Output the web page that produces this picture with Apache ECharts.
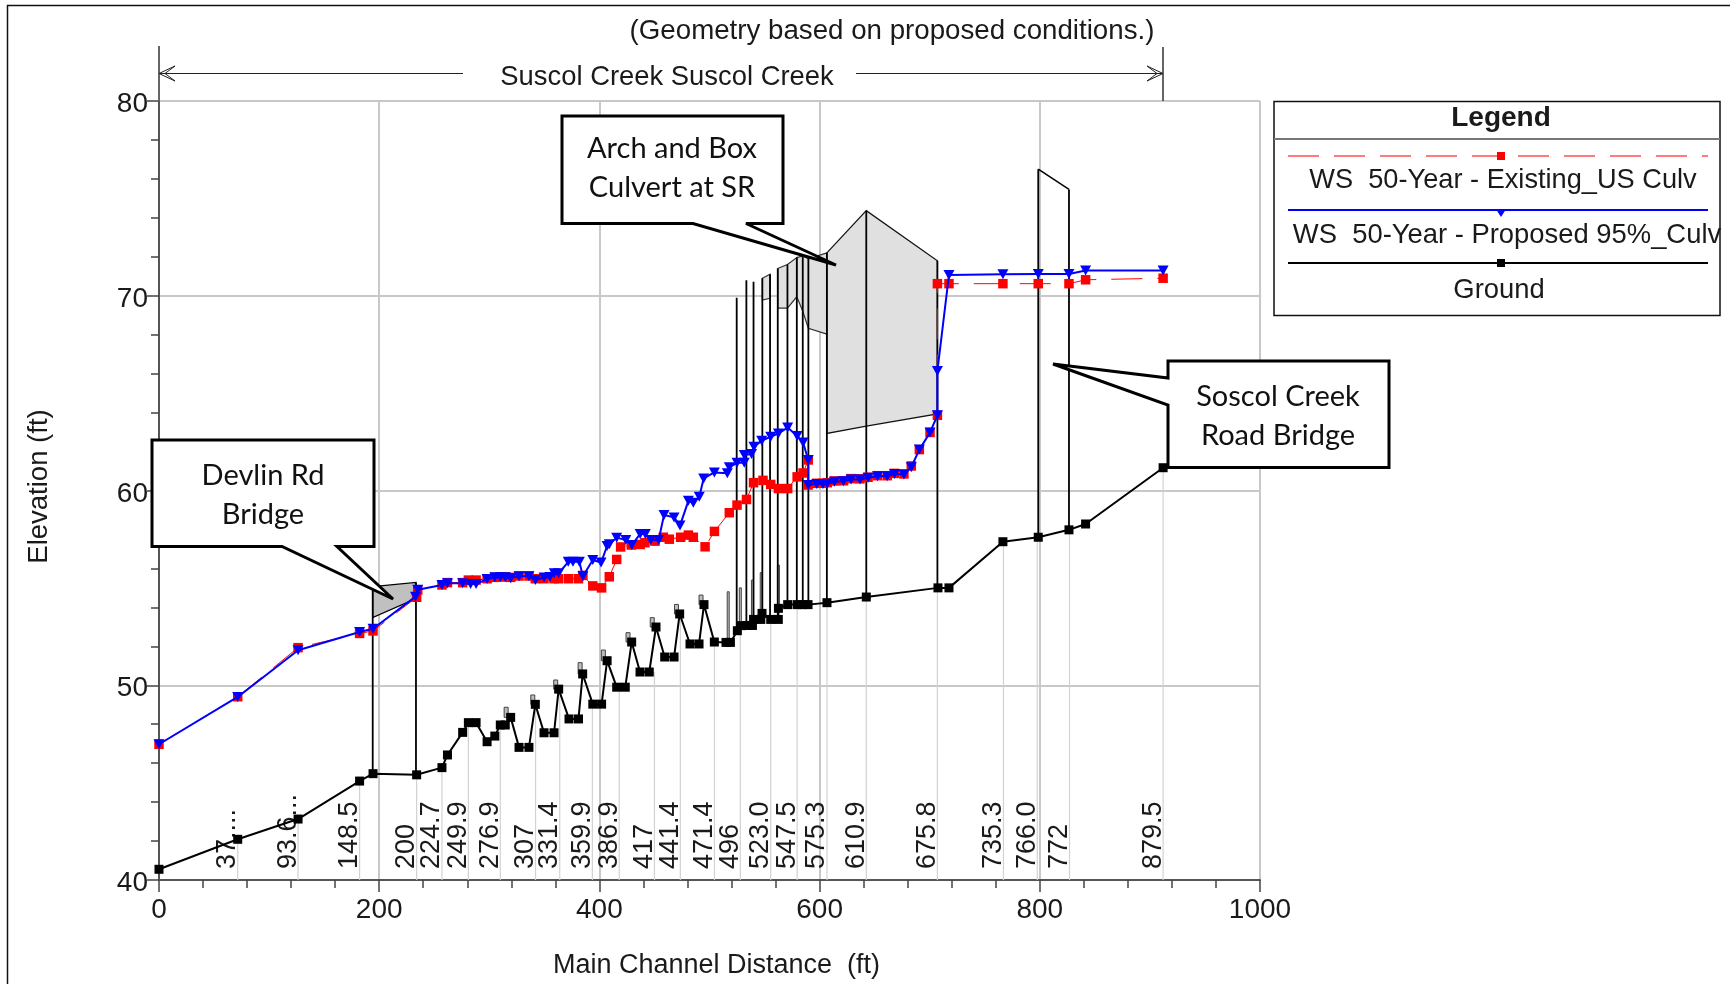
<!DOCTYPE html>
<html><head><meta charset="utf-8">
<style>html,body{margin:0;padding:0;background:#fff}#c{width:1730px;height:984px}</style>
<script src="https://cdn.jsdelivr.net/npm/echarts@6/dist/echarts.min.js"></script>
</head><body><div id="c"></div>
<script>
const groundX=[0,71.5,126.3,182.2,194.4,234,257,262,275.8,281,288,298,305,310,314.5,319.4,327,336,341.8,349.7,358.8,363,372.4,381,384.8,394,402,407,415.7,423.5,429.3,436.9,445.3,451.4,459.3,467.8,472.9,482.3,490.5,495,504.4,515,519,525.3,528.9,533.8,539,540,546.6,547.7,555.6,562.5,562.6,571,579.6,584.6,589.5,606.7,642.4,707.5,717.5,766.5,798.6,826.5,841.6,912];
const groundY=[40.55,42.09,43.13,45.08,45.46,45.4,45.77,46.42,47.58,48.08,48.08,47.1,47.39,47.96,47.96,48.35,46.81,46.81,49.02,47.56,47.56,49.8,48.27,48.27,50.58,49.03,49.03,51.26,49.9,49.9,52.22,50.68,50.68,52.99,51.45,51.45,53.66,52.12,52.12,54.14,52.22,52.2,52.2,52.8,53.06,53.07,53.07,53.38,53.38,53.69,53.38,53.38,53.95,54.14,54.14,54.14,54.14,54.24,54.53,55,55,57.37,57.6,57.98,58.28,61.17];

const existingX=[0,71.5,126.3,182.2,194.4,234,235,257,262,275.8,281,288,298,305,310,314.5,319.4,327,336,341.8,349.7,358.8,363,372,381,385,394,402,409,415.7,419.3,429,437,441.4,450.5,458,463.5,473.8,480.8,485.3,496,504.5,518,525,533.6,540,548.6,555.6,562.6,571,579.6,585,589.7,589.5,597.4,603,607,613.5,621.7,628.6,636.7,644,652.6,661.4,668,676.6,683.3,690.6,700.3,707,707,717.5,766.5,798.6,826.5,841.6,912];
const existingY=[46.97,49.41,51.93,52.66,52.79,54.52,54.89,55.15,55.27,55.27,55.4,55.4,55.47,55.54,55.57,55.57,55.54,55.61,55.61,55.47,55.47,55.47,55.47,55.47,55.47,55.64,55.1,55,55.57,56.46,57.1,57.2,57.23,57.32,57.4,57.6,57.5,57.6,57.71,57.6,57.11,57.9,58.86,59.25,59.54,60.4,60.52,60.31,60.1,60.1,60.7,60.9,61.57,60.28,60.37,60.37,60.4,60.49,60.5,60.61,60.6,60.68,60.76,60.76,60.88,60.85,61.26,62.1,62.98,63.86,70.62,70.62,70.62,70.62,70.62,70.82,70.9];

const proposedX=[0,71.5,126.3,182.2,194.4,233,235,257,262,275.8,283,288,298,305,310,314.5,319.4,327,336,341.8,349.7,355,359,363,371.7,376,381.8,385,394,401.5,407,409,415.7,424,429.5,437,441.7,446.6,453.8,458.7,467.8,473.2,480.8,485.3,490.7,494.7,504.4,516.2,518,525,531.6,531.6,538.2,540.4,547.4,555.6,562.6,571,579.6,585,589.7,589.7,597.4,603,607,613.5,621.7,628.6,636.7,644,652.6,661.4,668,676.6,683.3,690.6,700.3,707,707,717.5,766.5,798.6,826.5,841.6,912];
const proposedY=[46.97,49.4,51.8,52.73,52.9,54.55,54.9,55.15,55.24,55.24,55.2,55.2,55.45,55.54,55.54,55.54,55.5,55.6,55.6,55.4,55.53,55.56,55.75,55.75,56.34,56.34,56.34,55.6,56.43,56.3,57.15,57.24,57.58,57.46,57.2,57.77,57.77,57.46,57.46,58.74,58.62,58.2,59.47,59.37,59.68,60.62,60.93,60.88,61.2,61.42,61.42,61.82,61.87,62.25,62.56,62.76,62.93,63.23,62.8,62.47,61.57,60.28,60.34,60.33,60.35,60.45,60.47,60.57,60.57,60.65,60.73,60.73,60.85,60.82,61.2,62.1,62.98,63.86,66.14,71.07,71.1,71.12,71.12,71.3,71.3];

// stationing lines and their labels
const stationX=[71.5,126.3,182.2,234,257,281,310,342,364,393.6,418,450,473.5,504.5,528,555.6,579.6,606.7,642.4,707,767,797.7,827,912];
const stationTop=[42.09,43.13,45.08,45.4,45.77,48.08,47.96,49.02,49.8,49.03,49.9,50.68,53.66,52.22,53.06,53.38,54.14,54.24,54.53,55,57.37,57.6,57.98,61.17];
const stationLabels=["37....","93.6...","148.5","200","224.7","249.9","276.9","307","331.4","359.9","386.9","417","441.4","471.4","496","523.0","547.5","575.3","610.9","675.8","735.3","766.0","772","879.5"];

// structure verticals: [station, top elevation, ground elevation]
const pierLines=[[194.1,55.06,45.46],[233.4,55.28,45.4],[524.7,69.9,52.8],[533.5,70.8,53.07],[540,70.72,53.38],[548,70.9,53.69],[555,71.1,53.38],[562,71.4,53.38],[570.8,71.6,54.14],[579.3,71.96,54.14],[584.7,72.05,54.14],[589.8,71.9,54.14],[606.6,72.2,54.24],[642.4,74.37,54.53],[707,71.8,55],[798.6,76.5,57.6],[826.5,75.46,57.98]];
// deck / chord shapes as [station, elevation] polygons
const devlinDeck=[[194.1,55.06],[233.4,55.28],[233.4,54.45],[194.1,53.48]];
const culvertA=[[548,70.9],[555,71.1],[555,69.87],[548,69.78]];
const culvertB=[[562,71.4],[570.8,71.6],[579.3,71.96],[579.3,69.95],[570.8,69.36],[562,69.36]];
const culvertC=[[579.3,71.96],[584.7,72.05],[589.8,71.9],[606.6,72.2],[606.6,68.03],[589.8,68.33],[584.7,69.2],[579.3,69.95]];
const culvertD=[[606.6,72.2],[642.4,74.37],[707,71.8],[707,63.93],[642.4,63.31],[606.6,62.93]];
const soscolTop=[[798.6,76.5],[826.5,75.46]];
// narrow obstruction bars above ground: [station, top, base]
const blockBars=[[315.3,48.87,48.35],[339.5,49.5,49.02],[360.3,50.27,49.8],[382.5,51.16,50.58],[403.6,51.81,51.26],[426,52.7,52.22],[448,53.47,52.99],[470,54.15,53.66],[492.3,54.63,54.14],[517,54.8,52.2],[528,55,53.06],[539,55.4,53.4],[547,55.78,53.69],[562.6,56.17,53.95]];

const pairs=(xs,ys)=>xs.map((x,i)=>[x,ys[i]]);
const FONT='"Liberation Sans",Arial,sans-serif', CAL='Lato,"Open Sans",sans-serif', DARK='#1a1a1a';
const polys=[{p:devlinDeck,f:'#c0c0c0',s:'#000'},{p:culvertA,f:'#e0e0e0',s:'#333'},{p:culvertB,f:'#e0e0e0',s:'#333'},{p:culvertC,f:'#e0e0e0',s:'#333'},{p:culvertD,f:'#e0e0e0',s:'#111'}];

const chart=echarts.init(document.getElementById('c'),null,{renderer:'canvas'});
const line=(id,pts,w,c,dash)=>({type:'polyline',silent:true,z:100,shape:{points:pts},style:{stroke:c||'#000',lineWidth:w,fill:null,lineDash:dash||null}});
const txt=(t,x,y,size,o)=>({type:'text',silent:true,z:102,x,y,style:Object.assign({text:t,fontSize:size,fontFamily:FONT,fill:DARK,align:'center',verticalAlign:'middle'},o||{})});
const callout=(pts)=>({type:'polygon',silent:true,z:101,shape:{points:pts},style:{fill:'#fff',stroke:'#000',lineWidth:3,lineJoin:'miter',miterLimit:3}});

const graphics=[
 line('f',[[7.5,984],[7.5,5.5],[1730,5.5]],1.5,'#111'),
 line('ya',[[159,101],[159,46]],2,'#666'),
 line('yr',[[1163,101],[1163,47]],1.5,'#333'),
 line('a1',[[159,73.5],[463,73.5]],1,'#222'),
 line('a2',[[856,73.5],[1163,73.5]],1,'#222'),
 line('h1',[[175,66],[159,73.5],[175,81],[165,73.5],[175,66]],1,'#222'),
 line('h2',[[1147,66],[1163,73.5],[1147,81],[1157,73.5],[1147,66]],1,'#222'),
 txt('(Geometry based on proposed conditions.)',892,31,27.7),
 txt('Suscol Creek Suscol Creek',667,77,27.4),
 callout([[152,440],[374,440],[374,546.5],[337,546.5],[393,599],[282,546.5],[152,546.5]]),
 txt('Devlin Rd',263,476,29,{fontFamily:CAL,fill:'#111'}),
 txt('Bridge',263,515,29,{fontFamily:CAL,fill:'#111'}),
 callout([[562,116],[783,116],[783,223.5],[746,223.5],[836,265],[693,223.5],[562,223.5]]),
 txt('Arch and Box',672,149,29,{fontFamily:CAL,fill:'#111'}),
 txt('Culvert at SR',672,188,29,{fontFamily:CAL,fill:'#111'}),
 callout([[1168,361],[1389,361],[1389,467.5],[1168,467.5],[1168,405],[1053,364],[1168,378]]),
 txt('Soscol Creek',1278,397,29,{fontFamily:CAL,fill:'#111'}),
 txt('Road Bridge',1278,436,29,{fontFamily:CAL,fill:'#111'}),
 {type:'rect',silent:true,z:100,shape:{x:1274,y:101.5,width:446,height:214},style:{fill:'#fff',stroke:'#111',lineWidth:1.5}},
 line('lh',[[1274,139],[1720,139]],2,'#777'),
 txt('Legend',1501,118,28,{fontWeight:'bold'}),
 line('l1',[[1288,156],[1708,156]],1.5,'#ff5050',[31,15]),
 {type:'rect',silent:true,z:102,shape:{x:1497,y:152,width:8,height:8},style:{fill:'#f00'}},
 txt('WS  50-Year - Existing_US Culv',1503,181,27.2),
 line('l2',[[1288,210],[1708,210]],2,'#00f'),
 {type:'polygon',silent:true,z:102,shape:{points:[[1496.5,210],[1505.5,210],[1501,217]]},style:{fill:'#00f'}},
 txt('WS  50-Year - Proposed 95%_Culv',1507,235,27.4),
 line('l3',[[1288,263],[1708,263]],2,'#000'),
 {type:'rect',silent:true,z:102,shape:{x:1497,y:259,width:8,height:8},style:{fill:'#000'}},
 txt('Ground',1499,290,27.4)
];

const option={
 animation:false,backgroundColor:'#fff',
 grid:{left:159,top:101,width:1101,height:779,containLabel:false},
 xAxis:{type:'value',min:0,max:1000,interval:200,
  name:'Main Channel Distance  (ft)',nameLocation:'middle',nameGap:72,
  nameTextStyle:{fontFamily:FONT,fontSize:27,color:DARK,padding:[0,0,0,14]},
  axisLine:{lineStyle:{color:'#555',width:2},onZero:false},
  axisTick:{show:true,length:12,lineStyle:{color:'#444',width:1.5}},
  minorTick:{show:true,splitNumber:5,length:8,lineStyle:{color:'#444',width:1.5}},
  axisLabel:{fontFamily:FONT,fontSize:28,color:DARK,margin:16,formatter:v=>String(v)},
  splitLine:{show:true,lineStyle:{color:'#c8c8c8',width:2}},minorSplitLine:{show:false}},
 yAxis:{type:'value',min:40,max:80,interval:10,
  name:'Elevation (ft)',nameLocation:'middle',nameGap:106,nameRotate:90,
  nameTextStyle:{fontFamily:FONT,fontSize:27.5,color:DARK,padding:[0,0,0,8]},
  axisLine:{show:true,lineStyle:{color:'#555',width:2},onZero:false},
  axisTick:{show:true,length:12,lineStyle:{color:'#444',width:1.5}},
  minorTick:{show:true,splitNumber:5,length:8,lineStyle:{color:'#444',width:1.5}},
  axisLabel:{fontFamily:FONT,fontSize:28,color:DARK,margin:11,verticalAlign:'top',lineHeight:7},
  splitLine:{show:true,lineStyle:{color:'#c8c8c8',width:2}}},
 graphic:graphics,
 series:[
  {type:'custom',name:'stations',z:2,silent:true,encode:{x:0,y:1},
   data:stationX.map((x,i)=>[x,stationTop[i],i]),
   renderItem(p,api){
     const x=api.value(0),a=api.coord([x,40]),b=api.coord([x,api.value(1)]),i=api.value(2);
     return {type:'group',children:[
       {type:'line',shape:{x1:a[0],y1:a[1],x2:b[0],y2:b[1]},style:{stroke:'#d2d2d2',lineWidth:1.2}},
       {type:'text',x:a[0]+3.5,y:a[1]-11,rotation:Math.PI/2,style:{text:stationLabels[i],fontFamily:FONT,fontSize:27,fill:DARK,align:'left',verticalAlign:'bottom'}}
     ]};
   }},
  {type:'custom',name:'blocks',z:3,silent:true,encode:{x:0,y:1},
   data:blockBars,
   renderItem(p,api){
     const t=api.coord([api.value(0),api.value(1)]),b=api.coord([api.value(0),api.value(2)]);
     const w=api.value(0)>515?2:4;
     return {type:'rect',shape:{x:t[0]-w/2,y:t[1],width:w,height:b[1]-t[1]},style:{fill:'#bdbdbd',stroke:'#444',lineWidth:1}};
   }},
  {type:'custom',name:'decks',z:4,silent:true,encode:{x:0,y:1},
   data:polys.map((o,i)=>[o.p[0][0],o.p[0][1],i]),
   renderItem(p,api){
     const o=polys[api.value(2)];
     return {type:'polygon',shape:{points:o.p.map(q=>api.coord(q))},style:{fill:o.f,stroke:o.s,lineWidth:1.2}};
   }},
  {type:'line',name:'Soscol deck',z:5,silent:true,data:soscolTop,symbol:'none',lineStyle:{color:'#000',width:1.5}},
  {type:'custom',name:'piers',z:5,silent:true,encode:{x:0,y:1},
   data:pierLines,
   renderItem(p,api){
     const t=api.coord([api.value(0),api.value(1)]),b=api.coord([api.value(0),api.value(2)]);
     return {type:'line',shape:{x1:t[0],y1:t[1],x2:b[0],y2:b[1]},style:{stroke:'#000',lineWidth:1.8}};
   }},
  {type:'line',name:'Ground',z:6,data:pairs(groundX,groundY),symbol:'rect',symbolSize:9,showAllSymbol:true,
   lineStyle:{color:'#000',width:2},itemStyle:{color:'#000'}},
  {type:'line',name:'WS 50-Year - Existing_US Culv',z:7,data:pairs(existingX,existingY),symbol:'rect',symbolSize:9.5,showAllSymbol:true,
   lineStyle:{color:'#f00',width:1,type:[31,15]},itemStyle:{color:'#f00'}},
  {type:'line',name:'WS 50-Year - Proposed 95%_Culv',z:8,data:pairs(proposedX,proposedY),symbol:'triangle',symbolRotate:180,symbolSize:[11,10],showAllSymbol:true,
   lineStyle:{color:'#00f',width:2},itemStyle:{color:'#00f'}}
 ]
};
chart.setOption(option);
</script></body></html>
